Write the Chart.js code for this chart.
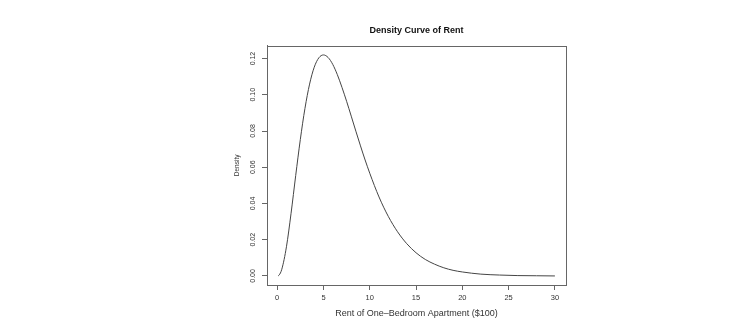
<!DOCTYPE html>
<html>
<head>
<meta charset="utf-8">
<script src="https://cdn.jsdelivr.net/npm/chart.js@4"></script>
<style>
  body { margin: 0; background: #fff; }
</style>
</head>
<body>
<canvas id="rentChart" width="749" height="330"></canvas>
<script>
// values
const rentX = [0.1, 0.2, 0.5, 1, 1.5, 2, 2.5, 3, 3.5, 4, 4.5, 5, 5.5, 6, 6.5, 7, 7.5, 8, 8.5, 9, 9.5, 10,
    11, 12, 13, 14, 15, 16, 17, 18, 19, 20, 22, 24, 26, 28, 30];
const densityY = [0.0001, 0.0004, 0.0037, 0.0161, 0.0346, 0.0554, 0.0753, 0.0925, 0.1059, 0.1152, 0.1204, 0.1220,
    0.1206, 0.1168, 0.1111, 0.1041, 0.0964, 0.0882, 0.0799, 0.0718, 0.0640, 0.0567,
    0.0436, 0.0329, 0.0244, 0.0178, 0.0128, 0.0091, 0.0065, 0.0045, 0.0031, 0.0022, 0.0010, 0.0005, 0.0002, 0.0001, 0.0000];
const xTicks = [0, 5, 10, 15, 20, 25, 30];
const yTicks = [0.00, 0.02, 0.04, 0.06, 0.08, 0.10, 0.12];

const axisColour = '#666';

Chart.defaults.font.family = '"Liberation Sans", Arial, sans-serif';
Chart.defaults.color = '#333';

// R style closed box around the plot region
const plotBox = {
    id: 'plotBox',
    afterDraw(chart) {
        const { ctx, chartArea } = chart;
        ctx.save();
        ctx.strokeStyle = axisColour;
        ctx.lineWidth = 1;
        ctx.strokeRect(Math.round(chartArea.left) + 0.5, Math.round(chartArea.top) + 0.5,
            Math.round(chartArea.right - chartArea.left), Math.round(chartArea.bottom - chartArea.top));
        ctx.restore();
    }
};

new Chart(
    document.getElementById('rentChart'),
    {
        type: 'line',
        data: {
            datasets: [
                {
                    data: rentX.map((x, i) => ({ x: x, y: densityY[i] })),
                    borderColor: '#444',
                    borderWidth: 1,
                    pointRadius: 0,
                    cubicInterpolationMode: 'monotone',
                    fill: false
                }
            ]
        },
        options: {
            responsive: false,
            animation: false,
            layout: {
                padding: { left: 220, right: 183, top: 0, bottom: 0 }
            },
            plugins: {
                legend: { display: false },
                tooltip: { enabled: false },
                title: {
                    display: true,
                    text: 'Density Curve of Rent',
                    fullSize: false,
                    color: '#111',
                    font: { size: 9, weight: 'bold' },
                    padding: { top: 25.3, bottom: 9.6 }
                }
            },
            scales: {
                x: {
                    type: 'linear',
                    min: -1.1,
                    max: 31.2,
                    afterFit: (scale) => { scale.height = 45; },
                    afterBuildTicks: (scale) => { scale.ticks = xTicks.map((v) => ({ value: v })); },
                    grid: { drawOnChartArea: false, tickLength: 5, color: axisColour },
                    border: { color: axisColour },
                    ticks: {
                        font: { size: 7.5 },
                        padding: 3.5,
                        maxRotation: 0,
                        callback: (v) => String(v)
                    },
                    title: {
                        display: true,
                        text: 'Rent of One\u2013Bedroom Apartment ($100)',
                        font: { size: 9 },
                        padding: { top: 0, bottom: 11.1 }
                    }
                },
                y: {
                    min: -0.005,
                    max: 0.1271,
                    afterFit: (scale) => { scale.width = 47; },
                    afterBuildTicks: (scale) => { scale.ticks = yTicks.map((v) => ({ value: v })); },
                    grid: { drawOnChartArea: false, tickLength: 5, color: axisColour },
                    border: { color: axisColour },
                    ticks: {
                        font: { size: 7 },
                        padding: 2,
                        minRotation: 90,
                        maxRotation: 90,
                        crossAlign: 'center',
                        callback: (v) => v.toFixed(2)
                    },
                    title: {
                        display: true,
                        text: 'Density',
                        font: { size: 6.5 },
                        padding: { top: 13, bottom: 0 }
                    }
                }
            }
        },
        plugins: [plotBox]
    }
);
</script>
</body>
</html>
